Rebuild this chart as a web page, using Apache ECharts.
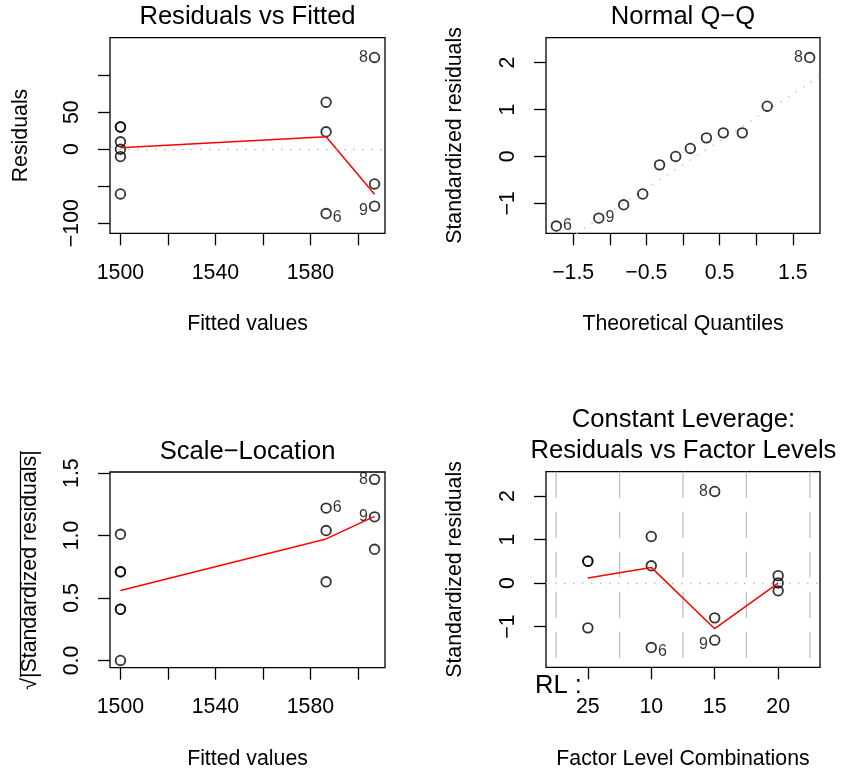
<!DOCTYPE html>
<html><head><meta charset="utf-8">
<script src="https://cdn.jsdelivr.net/npm/echarts@6/dist/echarts.min.js"></script>
<style>html,body{margin:0;padding:0;background:#fff}#c{width:845px;height:775px}</style>
</head><body><div id="c"></div>
<script>
// ---- data ----
const obsIds = [1,2,3,4,5,6,7,8,9,10,11,12];
const rlLevel = ['25','25','25','10','10','10','15','15','15','20','20','20'];
const fittedValues = [1500,1500,1500,1586.6,1586.6,1586.6,1607,1607,1607,1500,1500,1500];
const residuals = [30,-60.5,30,63.5,23.5,-87,-47,124,-77,10,0,-10];
const stdResiduals = [0.502,-1.03,0.502,1.07,0.396,-1.483,-0.80,2.106,-1.313,0.17,0,-0.179];
const sqrtAbsStdResiduals = [0.71,1.01,0.71,1.04,0.63,1.22,0.89,1.45,1.15,0.41,0,0.41];
const theoreticalQuantiles = [-1.73,-1.15,-0.81,-0.55,-0.32,-0.10,0.10,0.32,0.55,0.81,1.15,1.73];
const labelledObs = [6,8,9];
const levelOrder = ['25','10','15','20'];
const smoothFittedX = [1500,1586.6,1607];
const smoothResiduals = [2,16.8,-61];
const smoothScaleLoc = [0.56,0.973,1.154];
const smoothFactor = [0.115,0.36,-1.05,0.0];
const qqLineIntercept = -0.177;
const qqLineSlope = 1.007;
// ticks
const fittedTicks = [1500,1520,1540,1560,1580,1600];
const fittedTickLabels = [1500,1540,1580];
const residTicks = [-100,-50,0,50,100];
const residTickLabels = [-100,0,50];
const qqXTicks = [-1.5,-1,-0.5,0,0.5,1,1.5];
const qqXTickLabels = [-1.5,-0.5,0.5,1.5];
const stdTicks = [-1,0,1,2];
const slTicks = [0,0.5,1,1.5];

// ---- chart ----
const FONT = '"Liberation Sans", Arial, Helvetica, sans-serif';
const LW = 1.3;
const minus = v => (v < 0 ? '\u2212' : '') + Math.abs(v);
const chart = echarts.init(document.getElementById('c'), null, {renderer:'canvas'});

const grids = [
  {left:110, top:37.7, width:275, height:195.6},
  {left:546, top:37.7, width:274, height:195.6},
  {left:110, top:472, width:275, height:195.7},
  {left:546, top:471.7, width:274, height:195.6}
].map(g => Object.assign(g, {show:true, borderColor:'#000', borderWidth:LW, backgroundColor:'rgba(0,0,0,0)', containLabel:false}));

function axis(gi, min, max, ticks, labels, fmt, isY) {
  return {
    type:'value', gridIndex:gi, min:min, max:max, scale:true,
    axisLine:{show:false, onZero:false}, splitLine:{show:false},
    axisTick:{show:true, inside:false, length:12, customValues:ticks, lineStyle:{color:'#000', width:LW}},
    axisLabel:{show:true, customValues:labels, formatter:fmt, margin: isY ? 27.4 : 29, rotate: isY ? 90 : 0,
      color:'#000', fontFamily:FONT, fontSize:21.3}
  };
}

const xRangeFit = [1495.6, 1611.4];
const xAxes = [
  axis(0, xRangeFit[0], xRangeFit[1], fittedTicks, fittedTickLabels, v => String(v), false),
  axis(1, -1.871, 1.871, qqXTicks, qqXTickLabels, minus, false),
  axis(2, xRangeFit[0], xRangeFit[1], fittedTicks, fittedTickLabels, v => String(v), false),
  axis(3, 0.34, 4.66, [1,2,3,4], [1,2,3,4], v => levelOrder[Math.round(v)-1], false)
];
const yRange4 = [-1.937, 2.56];
const yAxes = [
  axis(0, -113.7, 150.7, residTicks, residTickLabels, minus, true),
  axis(1, -1.637, 2.529, stdTicks, stdTicks, minus, true),
  axis(2, -0.058, 1.509, slTicks, slTicks, v => v.toFixed(1), true),
  axis(3, yRange4[0], yRange4[1], stdTicks, stdTicks, minus, true)
];

function makePoints(xs, ys, ids, shiftNeg) {
  const lab = [];
  ids.forEach((id,i) => { if (labelledObs.includes(id)) lab.push(xs[i]); });
  const mid = (Math.min(...lab) + Math.max(...lab)) / 2;
  return xs.map((x,i) => {
    const item = {value:[x, ys[i]]};
    if (labelledObs.includes(ids[i])) {
      item.label = {show:true, formatter:String(ids[i]), position: x > mid ? 'left' : 'right',
        distance:1.0, offset:[0, (shiftNeg && ys[i] < 0) ? 4 : 0],
        fontSize:16, color:'#000', fontFamily:FONT};
    }
    return item;
  });
}
function scatter(gi, data) {
  return {type:'scatter', xAxisIndex:gi, yAxisIndex:gi, symbol:'circle', symbolSize:9.6, silent:true, z:3,
    itemStyle:{color:'rgba(0,0,0,0)', borderColor:'#000', borderWidth:1.8},
    label:{show:false}, emphasis:{disabled:true}, data:data};
}
function line(gi, data, color, type, z, w) {
  return {type:'line', xAxisIndex:gi, yAxisIndex:gi, symbol:'none', showSymbol:false, silent:true, z:z||4,
    clip:true, lineStyle:{color:color, width:w||LW, type:type||'solid'}, emphasis:{disabled:true}, data:data};
}
const dotted = [1.5, 7.5];
const zeroLine = {silent:true, symbol:'none', label:{show:false}, emphasis:{disabled:true},
  lineStyle:{color:'#bebebe', width:LW, type:dotted}, data:[{yAxis:0}]};

// Panel 1
const p1 = makePoints(fittedValues, residuals, obsIds, true);
// Panel 2
const order = obsIds.map((_,i) => i).sort((a,b) => stdResiduals[a] - stdResiduals[b]);
const qqX = order.map((i,k) => theoreticalQuantiles[k]);
const qqY = order.map(i => stdResiduals[i]);
const qqIds = order.map(i => obsIds[i]);
const p2 = makePoints(qqX, qqY, qqIds, false);
const qqLine = [xAxes[1].min, xAxes[1].max].map(x => [x, qqLineIntercept + qqLineSlope * x]);
// Panel 3
const p3 = makePoints(fittedValues, sqrtAbsStdResiduals, obsIds, false);
// Panel 4
const facX = rlLevel.map(l => levelOrder.indexOf(l) + 1);
const p4 = makePoints(facX, stdResiduals, obsIds, true);

const RED = '#ff0000';
const series = [];
const s1 = line(0, smoothFittedX.map((x,i) => [x, smoothResiduals[i]]), RED, 'solid', 4, 1.5);
s1.markLine = zeroLine;
series.push(scatter(0, p1), s1);
series.push(line(1, qqLine, '#bebebe', dotted, 2), scatter(1, p2));
series.push(scatter(2, p3), line(2, smoothFittedX.map((x,i) => [x, smoothScaleLoc[i]]), RED, 'solid', 4, 1.5));
for (let b = 0; b <= levelOrder.length; b++) {
  series.push(line(3, [[b + 0.5, yRange4[1]], [b + 0.5, yRange4[0]]], '#bebebe', [26, 14], 1));
}
const s4 = line(3, smoothFactor.map((v,i) => [i + 1, v]), RED, 'solid', 4, 1.5);
s4.markLine = zeroLine;
series.push(scatter(3, p4), s4);

function txt(text, x, y, size, rot, align) {
  return {type:'text', x:x, y:y, rotation:rot||0, silent:true, z:10,
    style:{text:text, x:0, y:0, font:size + 'px ' + FONT, fill:'#000',
      align:align||'center', verticalAlign:'middle', textAlign:align||'center', textVerticalAlign:'middle'}};
}
const R = Math.PI / 2;
const graphics = [
  txt('Residuals vs Fitted', 247.5, 17.1, 25.6),
  txt('Normal Q\u2212Q', 683, 17.1, 25.6),
  txt('Scale\u2212Location', 247.5, 451.8, 25.6),
  txt('Constant Leverage:', 683.5, 420.4, 25.6),
  txt('Residuals vs Factor Levels', 683.5, 451.1, 25.6),
  txt('Fitted values', 247.5, 324.3, 21.3),
  txt('Theoretical Quantiles', 683, 323.8, 21.3),
  txt('Fitted values', 247.5, 759.3, 21.3),
  txt('Factor Level Combinations', 683, 758.8, 21.3),
  txt('Residuals', 21, 135.5, 21.3, R),
  txt('Standardized residuals', 455.3, 135.5, 21.3, R),
  txt('Standardized residuals', 455.3, 569.5, 21.3, R),
  txt('\u221A|Standardized residuals|', 30, 570, 21.3, R),
  {type:'line', silent:true, z:10, shape:{x1:20.5, y1:451, x2:20.5, y2:677}, style:{stroke:'#000', lineWidth:1.2}},
  txt('RL :', 535, 685.5, 25.6, 0, 'left')
];

chart.setOption({
  animation:false, backgroundColor:'#fff',
  grid:grids, xAxis:xAxes, yAxis:yAxes, series:series, graphic:graphics
});
</script></body></html>
